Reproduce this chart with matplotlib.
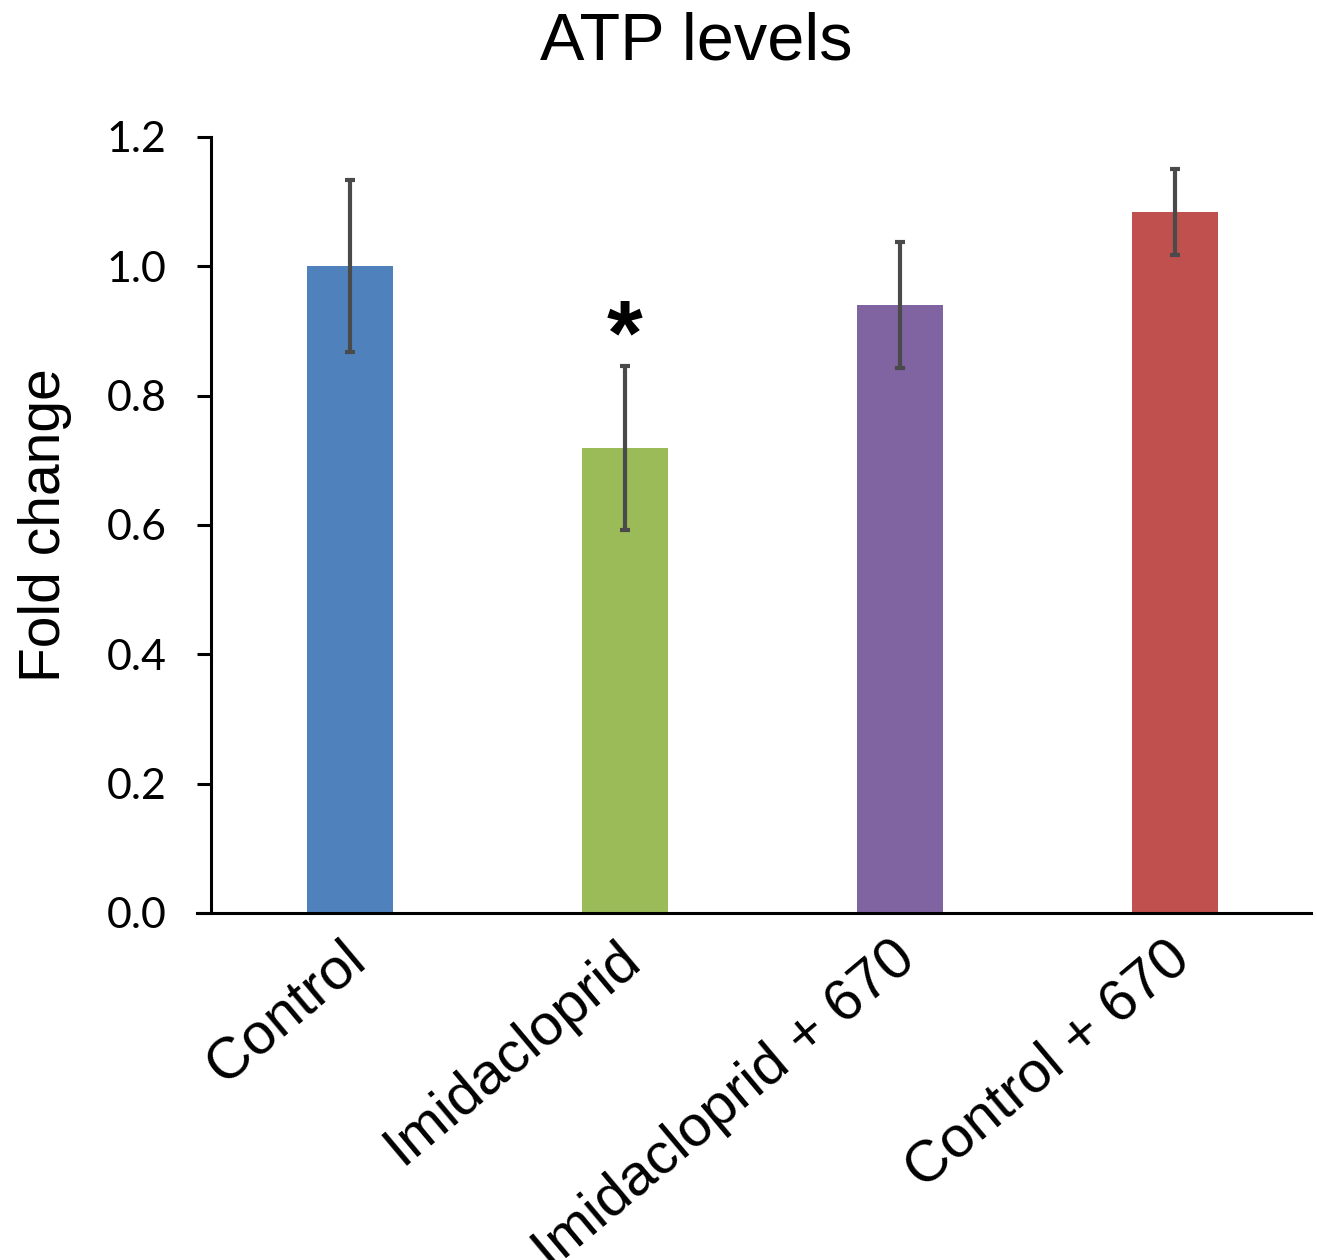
import matplotlib
matplotlib.use("Agg")
import matplotlib.pyplot as plt
import matplotlib.transforms as mtransforms
import numpy as np

categories = ["Control", "Imidacloprid", "Imidacloprid + 670", "Control + 670"]
values = [1.0, 0.719, 0.940, 1.084]
errors = [0.133, 0.127, 0.097, 0.066]
colors = ["#4F81BD", "#9BBB59", "#8064A2", "#C0504D"]
yticks = [0.0, 0.2, 0.4, 0.6, 0.8, 1.0, 1.2]
ytick_labels = ["0.0", "0.2", "0.4", "0.6", "0.8", "1.0", "1.2"]
significant = [False, True, False, False]

W, H = 1317, 1260
fig = plt.figure(figsize=(W / 100, H / 100), dpi=100)
ax = fig.add_axes([211 / W, 1 - 913 / H, (1311 - 211) / W, (913 - 137) / H])

x = np.arange(len(categories))
ax.bar(x, values, width=0.31, color=colors, edgecolor="none", zorder=2)
ax.errorbar(x, values, yerr=errors, fmt="none", ecolor="#4a4a4a",
            elinewidth=3.0, capsize=3.8, capthick=3.0, zorder=3)

for xi, v, e, s in zip(x, values, errors, significant):
    if s:
        ax.text(xi, v + e + 0.04, "*", ha="center", va="center",
                fontsize=66, fontweight="bold", family="Liberation Sans")

ax.set_xlim(-0.505, 3.495)
ax.set_ylim(0, 1.2)
ax.set_yticks(yticks)
ax.set_yticklabels(ytick_labels, family="Lato", fontsize=31)
ax.tick_params(axis="y", direction="out", length=10, width=2.2, pad=22)

ax.set_xticks(x)
ax.set_xticklabels(categories, family="Liberation Sans", fontsize=42,
                   rotation=40, ha="right", rotation_mode="anchor")
ax.tick_params(axis="x", length=0, pad=13)
offset = mtransforms.ScaledTranslation(-9 / 100, 0, fig.dpi_scale_trans)
for lbl in ax.get_xticklabels():
    lbl.set_transform(lbl.get_transform() + offset)

for side in ["top", "right", "bottom"]:
    ax.spines[side].set_visible(False)
ax.spines["left"].set_linewidth(2.2)
ax.axhline(0, xmin=-14 / 1100, xmax=1, color="black", linewidth=2.2,
           clip_on=False, zorder=4)

ax.set_ylabel("Fold change", family="Liberation Sans", fontsize=41)
ax.yaxis.set_label_coords((72 - 211) / 1100, 0.5)

fig.text(696 / W, 1 - 60 / H, "ATP levels", ha="center", va="baseline",
         family="Liberation Sans", fontsize=48)

fig.savefig("out.png", dpi=100, facecolor="white")
